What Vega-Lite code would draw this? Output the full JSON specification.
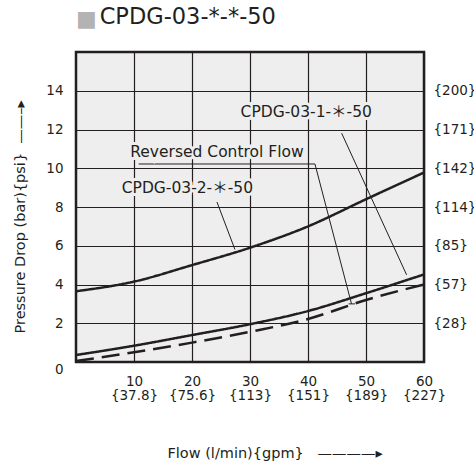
{
  "$schema": "https://vega.github.io/schema/vega-lite/v6.json",
  "width": 348,
  "height": 310,
  "autosize": {"type": "none"},
  "padding": {"left": 76, "top": 52, "right": 50, "bottom": 102},
  "background": "white",
  "config": {
    "view": {"fill": "#eeeeee", "stroke": "#231f20", "strokeWidth": 2.5},
    "font": "DejaVu Sans",
    "axis": {"labelFont": "DejaVu Sans", "titleFont": "DejaVu Sans", "labelColor": "#231f20", "titleColor": "#231f20", "titleFontWeight": "normal"}
  },
  "title": {
    "text": "■",
    "subtitle": "\u2800\u00a0CPDG-03-*-*-50",
    "anchor": "start",
    "frame": "group",
    "orient": "top",
    "font": "DejaVu Sans",
    "fontSize": 22,
    "fontWeight": "normal",
    "color": "#b3b3b3",
    "subtitleFont": "DejaVu Sans",
    "subtitleFontSize": 22.5,
    "subtitleColor": "#231f20",
    "subtitlePadding": -25.5,
    "offset": 18.5
  },
  "datasets": {
    "curves": [
      {"series": "CPDG-03-2", "flow": 0, "dp": 3.65},
      {"series": "CPDG-03-2", "flow": 10, "dp": 4.15},
      {"series": "CPDG-03-2", "flow": 20, "dp": 5.0},
      {"series": "CPDG-03-2", "flow": 30, "dp": 5.9},
      {"series": "CPDG-03-2", "flow": 40, "dp": 7.0},
      {"series": "CPDG-03-2", "flow": 50, "dp": 8.4},
      {"series": "CPDG-03-2", "flow": 60, "dp": 9.78},
      {"series": "CPDG-03-1", "flow": 0, "dp": 0.36},
      {"series": "CPDG-03-1", "flow": 10, "dp": 0.84},
      {"series": "CPDG-03-1", "flow": 20, "dp": 1.39},
      {"series": "CPDG-03-1", "flow": 30, "dp": 1.95},
      {"series": "CPDG-03-1", "flow": 40, "dp": 2.63},
      {"series": "CPDG-03-1", "flow": 50, "dp": 3.55},
      {"series": "CPDG-03-1", "flow": 60, "dp": 4.52},
      {"series": "Reversed", "flow": 0, "dp": 0.05},
      {"series": "Reversed", "flow": 10, "dp": 0.5},
      {"series": "Reversed", "flow": 20, "dp": 1.0},
      {"series": "Reversed", "flow": 30, "dp": 1.56},
      {"series": "Reversed", "flow": 40, "dp": 2.22},
      {"series": "Reversed", "flow": 50, "dp": 3.2},
      {"series": "Reversed", "flow": 60, "dp": 4.0}
    ],
    "leaders": [
      {"x": 45.8, "y": 11.81, "x2": 57.0, "y2": 4.5},
      {"x": 10.8, "y": 10.22, "x2": 41.2, "y2": 10.22},
      {"x": 41.2, "y": 10.22, "x2": 47.5, "y2": 3.0},
      {"x": 47.0, "y": 3.0, "x2": 48.1, "y2": 3.0},
      {"x": 24.3, "y": 8.26, "x2": 27.4, "y2": 5.81}
    ],
    "labels": [
      {"x": 39.7, "y": 12.88, "label": "CPDG-03-1-＊-50"},
      {"x": 24.3, "y": 10.85, "label": "Reversed Control Flow"},
      {"x": 19.2, "y": 8.96, "label": "CPDG-03-2-＊-50"}
    ]
  },
  "layer": [
    {
      "data": {"name": "curves"},
      "mark": {"type": "line", "interpolate": "monotone", "strokeWidth": 2.5, "color": "#231f20"},
      "encoding": {
        "x": {
          "field": "flow", "type": "quantitative",
          "scale": {"domain": [0, 60], "nice": false},
          "axis": {
            "values": [10, 20, 30, 40, 50, 60],
            "grid": true, "gridColor": "#231f20", "gridWidth": 1.2, "gridOpacity": 1,
            "domain": false, "ticks": false,
            "labelPadding": 12, "labelFontSize": 13.5,
            "labelFlush": false, "labelOverlap": false,
            "title": "Flow (l/min){gpm}\u00a0\u00a0\u00a0\u2014\u2014\u2014\u2014\u25b8",
            "titleFontSize": 14.5, "titleAlign": "left", "titleX": 91, "titleY": 95, "titleBaseline": "alphabetic"
          }
        },
        "y": {
          "field": "dp", "type": "quantitative",
          "scale": {"domain": [0, 16], "nice": false},
          "axis": {
            "values": [0, 2, 4, 6, 8, 10, 12, 14],
            "grid": true, "gridColor": "#231f20", "gridWidth": 1.2, "gridOpacity": 1,
            "domain": false, "ticks": false,
            "labelPadding": 13, "labelFontSize": 13.5,
            "labelBaseline": {"condition": {"test": "datum.value == 0", "value": "top"}, "value": "middle"},
            "title": "Pressure Drop (bar){psi}\u00a0\u00a0\u2014\u2014\u2013\u25b8",
            "titleFontSize": 14.5, "titleAlign": "left", "titleAngle": -90,
            "titleX": -52, "titleY": 281, "titleBaseline": "alphabetic"
          }
        },
        "detail": {"field": "series"},
        "strokeDash": {
          "field": "series", "type": "nominal",
          "scale": {"domain": ["CPDG-03-2", "CPDG-03-1", "Reversed"], "range": [[1, 0], [1, 0], [18, 8]]},
          "legend": null
        }
      }
    },
    {
      "data": {"name": "leaders"},
      "mark": {"type": "rule", "strokeWidth": 1, "color": "#231f20"},
      "encoding": {
        "x": {
          "field": "x", "type": "quantitative", "scale": {"domain": [0, 60], "nice": false},
          "axis": {
            "orient": "bottom", "offset": 14,
            "values": [10, 20, 30, 40, 50, 60],
            "grid": false, "domain": false, "ticks": false,
            "labelPadding": 12, "labelFontSize": 13.5,
            "labelFlush": false, "labelOverlap": false,
            "labelExpr": "datum.value == 10 ? '{37.8}' : datum.value == 20 ? '{75.6}' : datum.value == 30 ? '{113}' : datum.value == 40 ? '{151}' : datum.value == 50 ? '{189}' : '{227}'",
            "title": null
          }
        },
        "x2": {"field": "x2"},
        "y": {
          "field": "y", "type": "quantitative", "scale": {"domain": [0, 16], "nice": false},
          "axis": {
            "orient": "right",
            "values": [2, 4, 6, 8, 10, 12, 14],
            "grid": false, "domain": false, "ticks": false,
            "labelPadding": 9, "labelFontSize": 13.5,
            "labelExpr": "datum.value == 2 ? '{28}' : datum.value == 4 ? '{57}' : datum.value == 6 ? '{85}' : datum.value == 8 ? '{114}' : datum.value == 10 ? '{142}' : datum.value == 12 ? '{171}' : '{200}'",
            "title": null
          }
        },
        "y2": {"field": "y2"}
      }
    },
    {
      "data": {"name": "labels"},
      "mark": {"type": "text", "font": "DejaVu Sans, Noto Sans CJK JP", "fontSize": 15.5, "align": "center", "baseline": "middle", "fill": "#eeeeee", "stroke": "#eeeeee", "strokeWidth": 6},
      "encoding": {
        "x": {"field": "x", "type": "quantitative", "axis": null},
        "y": {"field": "y", "type": "quantitative", "axis": null},
        "text": {"field": "label"}
      }
    },
    {
      "data": {"name": "labels"},
      "mark": {"type": "text", "font": "DejaVu Sans, Noto Sans CJK JP", "fontSize": 15.5, "align": "center", "baseline": "middle", "fill": "#231f20"},
      "encoding": {
        "x": {"field": "x", "type": "quantitative", "axis": null},
        "y": {"field": "y", "type": "quantitative", "axis": null},
        "text": {"field": "label"}
      }
    }
  ],
  "resolve": {"axis": {"x": "independent", "y": "independent"}}
}
